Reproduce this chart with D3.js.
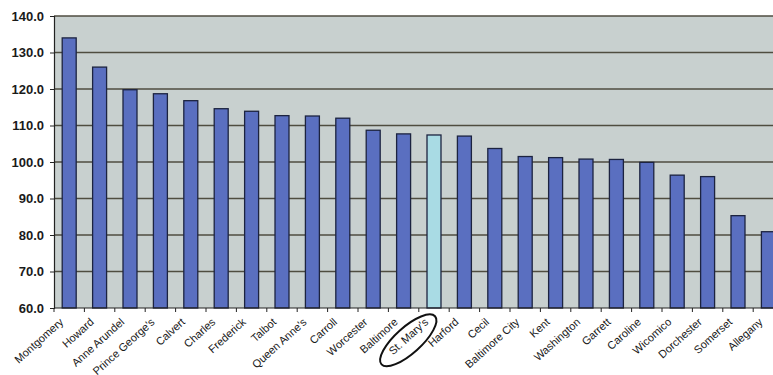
<!DOCTYPE html>
<html>
<head>
<meta charset="utf-8">
<script src="https://cdn.jsdelivr.net/npm/d3@7"></script>
<style>
  html, body { margin: 0; padding: 0; background: #fff; }
  svg { display: block; }
</style>
</head>
<body>
<div id="chart"></div>
<script>
// County index values
const counties = [
    "Montgomery", "Howard", "Anne Arundel", "Prince George's", "Calvert", "Charles",
    "Frederick", "Talbot", "Queen Anne's", "Carroll", "Worcester", "Baltimore",
    "St. Mary's", "Harford", "Cecil", "Baltimore City", "Kent", "Washington",
    "Garrett", "Caroline", "Wicomico", "Dorchester", "Somerset", "Allegany"
];
const indexValues = [
    134.0, 126.0, 119.8, 118.7, 116.8, 114.6,
    113.9, 112.7, 112.6, 112.0, 108.7, 107.7,
    107.4, 107.1, 103.7, 101.5, 101.2, 100.8,
    100.7, 99.9, 96.4, 96.0, 85.3, 80.9
];
const yTicks = [60, 70, 80, 90, 100, 110, 120, 130, 140];
const highlighted = "St. Mary's";

const width = 773, height = 375;
const plotLeft = 54, plotTop = 16, plotBottom = 308;
const step = 30.4;

const svg = d3.select("#chart").append("svg")
    .attr("width", width)
    .attr("height", height);

const x = d3.scaleBand()
    .domain(counties)
    .range([plotLeft, plotLeft + step * counties.length])
    .paddingInner(0.54)
    .paddingOuter(0.27);

const y = d3.scaleLinear()
    .domain([60, 140])
    .range([plotBottom, plotTop]);

// plot background
svg.append("rect")
    .attr("x", plotLeft)
    .attr("y", plotTop)
    .attr("width", width - plotLeft)
    .attr("height", plotBottom - plotTop)
    .attr("fill", "#c8d0cf");

// gridlines
svg.append("g")
    .selectAll("line")
    .data(yTicks.filter(d => d > 60))
    .join("line")
    .attr("x1", plotLeft)
    .attr("x2", width)
    .attr("y1", d => y(d))
    .attr("y2", d => y(d))
    .attr("stroke", "#4f4d40")
    .attr("stroke-width", 1.4);

// bars
const data = counties.map((c, i) => ({ name: c, value: indexValues[i] }));
svg.append("g")
    .selectAll("rect")
    .data(data)
    .join("rect")
    .attr("x", d => x(d.name))
    .attr("y", d => y(d.value))
    .attr("width", x.bandwidth())
    .attr("height", d => y(60) - y(d.value))
    .attr("fill", d => d.name === highlighted ? "#a9dbe4" : "#5a6fc0")
    .attr("stroke", "#1c2340")
    .attr("stroke-width", 1.3);

// y axis
const yAxis = d3.axisLeft(y)
    .tickValues(yTicks)
    .tickSize(4)
    .tickPadding(6)
    .tickFormat(d3.format(".1f"));

const yG = svg.append("g")
    .attr("transform", `translate(${plotLeft},0)`)
    .call(yAxis);
yG.select(".domain").attr("stroke", "#222").attr("stroke-width", 1.2);
yG.selectAll(".tick line").attr("stroke", "#222");
yG.selectAll("text")
    .attr("font-family", "'Liberation Sans', Arial, sans-serif")
    .attr("font-size", 13)
    .attr("font-weight", "bold")
    .attr("fill", "#1a1a1a");

// x axis baseline and category boundary ticks
svg.append("line")
    .attr("x1", plotLeft)
    .attr("x2", width)
    .attr("y1", plotBottom)
    .attr("y2", plotBottom)
    .attr("stroke", "#222")
    .attr("stroke-width", 1.2);

svg.append("g")
    .selectAll("line")
    .data(d3.range(counties.length + 1))
    .join("line")
    .attr("x1", i => plotLeft + i * x.step())
    .attr("x2", i => plotLeft + i * x.step())
    .attr("y1", plotBottom)
    .attr("y2", plotBottom + 4)
    .attr("stroke", "#222");

// rotated category labels
const labelDx = -5, labelDy = 15;
svg.append("g")
    .selectAll("text")
    .data(counties)
    .join("text")
    .attr("transform", d => `translate(${x(d) + x.bandwidth() / 2 + labelDx},${plotBottom + labelDy}) rotate(-42)`)
    .attr("text-anchor", "end")
    .attr("font-family", "'Liberation Sans', Arial, sans-serif")
    .attr("font-size", 11)
    .attr("fill", "#1a1a1a")
    .text(d => d);

// hand-drawn circle around the highlighted county label
const hx = x(highlighted) + x.bandwidth() / 2 + labelDx;
svg.append("ellipse")
    .attr("transform", `translate(${hx},${plotBottom + labelDy}) rotate(-42) translate(-27,-1)`)
    .attr("rx", 36)
    .attr("ry", 13)
    .attr("fill", "none")
    .attr("stroke", "#111")
    .attr("stroke-width", 2);
</script>
</body>
</html>
